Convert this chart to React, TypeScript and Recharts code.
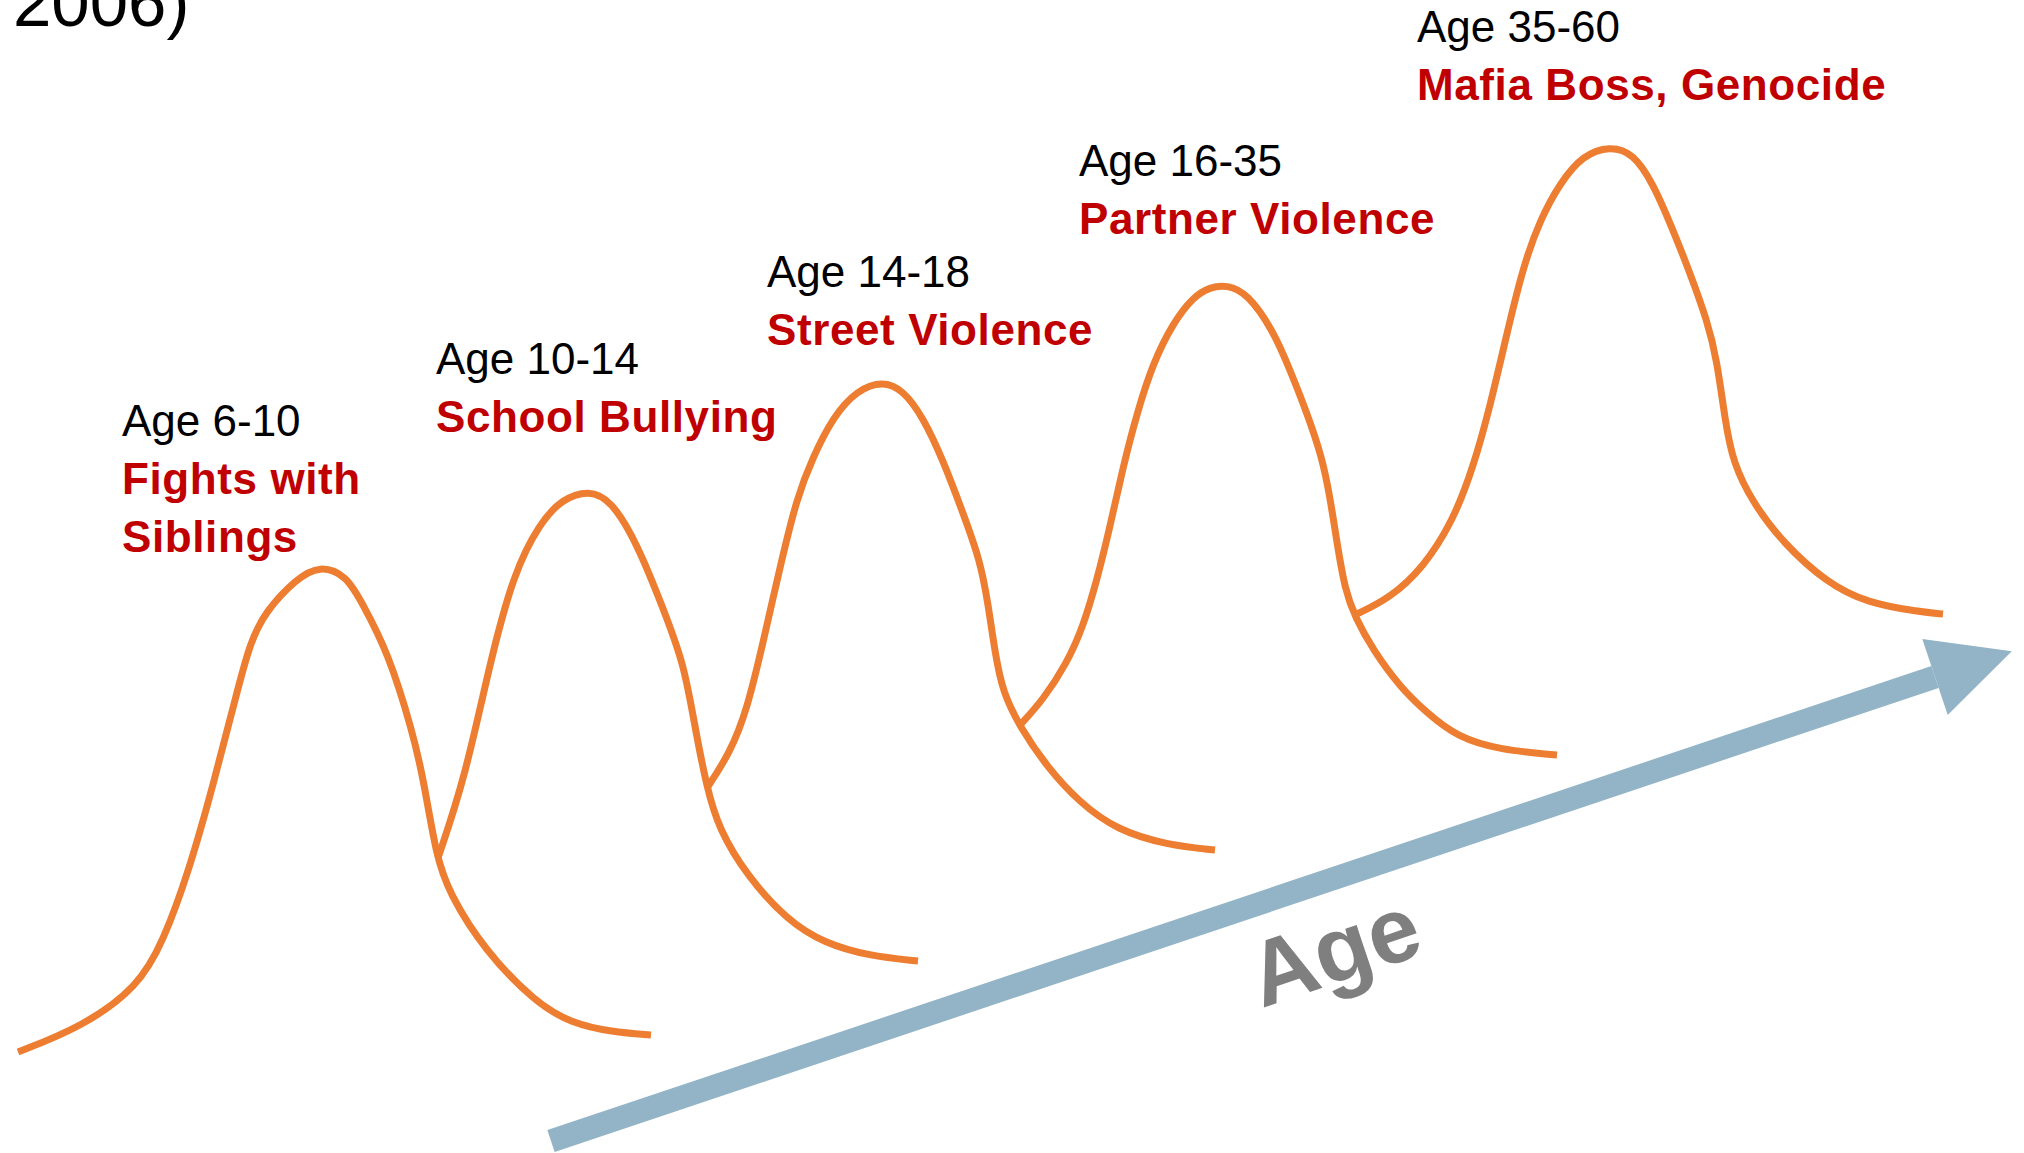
import { LineChart, Line, XAxis, YAxis, ReferenceLine, ReferenceDot } from "recharts";

const FONT = "'Liberation Sans', Arial, sans-serif";
const ORANGE = "#ED7D31";
const RED = "#C00000";
const ARROW = "#92B4C6";

const ageRanges = ["Age 6-10", "Age 10-14", "Age 14-18", "Age 16-35", "Age 35-60"];
const violenceForms = [
  ["Fights with", "Siblings"],
  ["School Bullying"],
  ["Street Violence"],
  ["Partner Violence"],
  ["Mafia Boss, Genocide"],
];

// [position along age, level]
const siblingsWave: [number, number][] = [
  [18, 101], [82, 126], [138, 166], [163, 211], [189, 282], [214, 371], [237, 461],
  [250, 510], [265, 541], [296, 574], [320, 588], [347, 577], [362, 550], [388, 501],
  [413, 420], [424, 371], [436, 298], [449, 260], [485, 202], [536, 150], [571, 130],
  [612, 121], [651, 118],
];
const bullyingWave: [number, number][] = [
  [438, 295], [465, 375], [490, 491], [514, 581], [540, 630], [562, 654], [589, 663],
  [611, 653], [637, 610], [663, 545], [684, 489], [694, 431], [707, 364], [719, 324],
  [747, 277], [788, 232], [824, 210], [869, 197], [918, 192],
];
const streetWave: [number, number][] = [
  [707, 365], [730, 400], [747, 443], [763, 510], [780, 586], [797, 656], [813, 696],
  [833, 736], [857, 763], [883, 772], [903, 763], [923, 736], [943, 693], [963, 640],
  [980, 593], [988, 550], [995, 500], [1003, 460], [1020, 426], [1047, 386], [1080, 350],
  [1117, 323], [1167, 308], [1215, 303],
];
const partnerWave: [number, number][] = [
  [1020, 428], [1043, 453], [1067, 490], [1083, 526], [1097, 573], [1110, 626], [1123, 686],
  [1137, 740], [1153, 790], [1173, 830], [1193, 856], [1210, 866], [1227, 868], [1247, 860],
  [1273, 823], [1290, 783], [1307, 740], [1322, 696], [1330, 656], [1337, 610], [1345, 563],
  [1355, 536], [1373, 503], [1400, 466], [1427, 440], [1457, 416], [1500, 403], [1557, 398],
];
const mafiaWave: [number, number][] = [
  [1355, 538], [1390, 555], [1423, 585], [1453, 632], [1473, 685], [1490, 746], [1507, 820],
  [1523, 886], [1540, 933], [1560, 970], [1583, 998], [1610, 1007], [1633, 1000], [1653, 970],
  [1673, 923], [1690, 880], [1707, 833], [1717, 793], [1725, 733], [1733, 690], [1753, 650],
  [1783, 610], [1827, 570], [1867, 550], [1920, 541], [1943, 539],
];

const waves = [siblingsWave, bullyingWave, streetWave, partnerWave, mafiaWave];

// age arrow: tail and start of the head
const ageArrow: [number, number][] = [[551, 12], [1935, 476]];

// where each stage's text starts (left, first baseline)
const labelAnchors: [number, number][] = [
  [122, 717], [436, 779], [767, 866], [1079, 977], [1417, 1111],
];

function StageLabel({ cx, cy, age, form }: any) {
  return (
    <text x={cx} y={cy} fontFamily={FONT} fontSize={44}>
      <tspan x={cx} fill="#000">{age}</tspan>
      {form.map((line: string, i: number) => (
        <tspan key={i} x={cx} dy={58} fill={RED} fontWeight="bold" letterSpacing={0.6}>
          {line}
        </tspan>
      ))}
    </text>
  );
}

function AgeArrow(props: any) {
  const { x1, y1, x2, y2 } = props;
  const dx = x2 - x1;
  const dy = y2 - y1;
  const len = Math.hypot(dx, dy);
  const ux = dx / len;
  const uy = dy / len;
  const nx = -uy;
  const ny = ux;
  const head = 81;
  const half = 40;
  const pts = [
    [x2 + nx * half, y2 + ny * half],
    [x2 + ux * head, y2 + uy * head],
    [x2 - nx * half, y2 - ny * half],
  ]
    .map((p) => p.join(","))
    .join(" ");
  const deg = (Math.atan2(dy, dx) * 180) / Math.PI;
  const tx = x1 + ux * 716 + nx * 100;
  const ty = y1 + uy * 716 + ny * 100;
  return (
    <g>
      <line x1={x1} y1={y1} x2={x2} y2={y2} stroke={ARROW} strokeWidth={23} />
      <polygon points={pts} fill={ARROW} />
      <text
        transform={`translate(${tx} ${ty}) rotate(${deg})`}
        fontFamily={FONT}
        fontSize={92}
        fontWeight="bold"
        fill="#7F7F7F"
      >
        Age
      </text>
    </g>
  );
}

export default function App() {
  return (
    <div
      style={{
        position: "fixed",
        left: 0,
        top: 0,
        width: 2024,
        height: 1153,
        background: "#fff",
        overflow: "hidden",
      }}
    >
      <LineChart width={2024} height={1153} margin={{ top: 0, right: 0, bottom: 0, left: 0 }}>
        <XAxis type="number" dataKey="x" domain={[0, 2024]} hide allowDataOverflow />
        <YAxis type="number" domain={[0, 1153]} hide allowDataOverflow />
        <ReferenceLine
          segment={ageArrow.map(([x, y]) => ({ x, y }))}
          ifOverflow="visible"
          shape={(p: any) => <AgeArrow {...p} />}
        />
        {waves.map((w, i) => (
          <Line
            key={i}
            data={w.map(([x, y]) => ({ x, y }))}
            dataKey="y"
            type="basis"
            stroke={ORANGE}
            strokeWidth={7}
            dot={false}
            activeDot={false}
            isAnimationActive={false}
          />
        ))}
        {labelAnchors.map(([x, y], i) => (
          <ReferenceDot
            key={i}
            x={x}
            y={y}
            r={0}
            ifOverflow="visible"
            shape={(p: any) => (
              <StageLabel cx={p.cx} cy={p.cy} age={ageRanges[i]} form={violenceForms[i]} />
            )}
          />
        ))}
      </LineChart>
      <svg
        width={400}
        height={60}
        style={{ position: "absolute", left: 0, top: 0 }}
      >
        <text x={13} y={26} fontFamily={FONT} fontSize={69} fill="#000">
          2006)
        </text>
      </svg>
    </div>
  );
}
